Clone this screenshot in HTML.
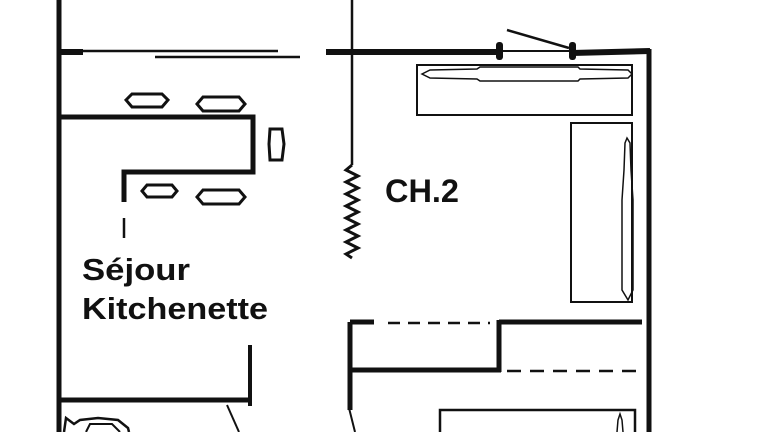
<!DOCTYPE html>
<html><head><meta charset="utf-8"><style>
html,body{margin:0;padding:0;background:#fff;width:768px;height:432px;overflow:hidden}
svg{display:block}
text{font-family:"Liberation Sans",sans-serif;font-weight:bold;fill:#111}
</style></head><body>
<svg width="768" height="432" viewBox="0 0 768 432" xmlns="http://www.w3.org/2000/svg">
<g stroke="#111" fill="none" stroke-linecap="butt">
<line x1="59" y1="0" x2="59" y2="432" stroke-width="5"/>
<rect x="57" y="49" width="26" height="6" fill="#111" stroke="none"/>
<line x1="59" y1="51" x2="278" y2="51" stroke-width="2.5"/>
<line x1="155" y1="57" x2="300" y2="57" stroke-width="2.5"/>
<line x1="352" y1="0" x2="352" y2="165" stroke-width="2.5"/>
<polyline points="352,165 346,170 358,176 346,182 358,188 346,194 358,200 346,206 358,212 346,218 358,224 346,230 358,236 346,242 358,248 346,254 352,258" stroke-width="3"/>
<line x1="326" y1="52" x2="500" y2="52" stroke-width="6"/>
<line x1="500" y1="51" x2="572" y2="51" stroke-width="2"/>
<rect x="496" y="42" width="7" height="18" rx="3" fill="#111" stroke="none"/>
<rect x="569" y="42" width="7" height="18" rx="3" fill="#111" stroke="none"/>
<line x1="507" y1="30" x2="569" y2="48" stroke-width="2.5"/>
<line x1="572" y1="53" x2="650" y2="51" stroke-width="6"/>
<line x1="649" y1="49" x2="649" y2="432" stroke-width="5"/>
<rect x="417" y="65" width="215" height="50" stroke-width="2"/>
<path d="M422,74 L430,70 L477,69 L480,67 L578,67 L580,69 L628,70 L632,74 L628,78 L580,79 L578,81 L480,81 L477,79 L430,78 Z" stroke-width="1.5"/>
<rect x="571" y="123" width="61" height="179" stroke-width="2"/>
<path d="M627,138 L630,143 L631,170 L633,200 L633,290 L628,300 L622,290 L622,200 L624,170 L625,143 Z" stroke-width="1.5"/>
<polyline points="61,117 253,117 253,172 124,172 124,202" stroke-width="5"/>
<line x1="124" y1="218" x2="124" y2="238" stroke-width="2.5"/>
<path d="M126,100 L132,94 L162,94 L168,100 L162,107 L132,107 Z" stroke-width="3"/>
<path d="M197,104 L203,97 L239,97 L245,104 L239,111 L203,111 Z" stroke-width="3"/>
<path d="M269,144 L270,129 L282,129 L284,144 L282,160 L270,160 Z" stroke-width="3"/>
<path d="M142,191 L147,185 L172,185 L177,191 L172,197 L147,197 Z" stroke-width="3"/>
<path d="M197,197 L203,190 L239,190 L245,197 L239,204 L203,204 Z" stroke-width="3"/>
<line x1="250" y1="345" x2="250" y2="406" stroke-width="4"/>
<line x1="59" y1="400" x2="252" y2="400" stroke-width="5"/>
<line x1="227" y1="405" x2="239" y2="432" stroke-width="2"/>
<path d="M64,432 L66,418 L74,424 L80,420 L98,418 L118,420 L128,428 L129,432" stroke-width="2.5"/>
<path d="M86,432 L90,424 L112,424 L120,432" stroke-width="2"/>
<line x1="350" y1="322" x2="350" y2="410" stroke-width="5"/>
<line x1="350" y1="322" x2="374" y2="322" stroke-width="5"/>
<line x1="388" y1="323" x2="490" y2="323" stroke-width="2.5" stroke-dasharray="12,8"/>
<line x1="499" y1="320" x2="499" y2="372" stroke-width="5"/>
<line x1="499" y1="322" x2="642" y2="322" stroke-width="5"/>
<line x1="350" y1="370" x2="501" y2="370" stroke-width="5"/>
<line x1="507" y1="371" x2="642" y2="371" stroke-width="2.5" stroke-dasharray="14,9"/>
<line x1="349" y1="408" x2="355" y2="432" stroke-width="2"/>
<rect x="440" y="410" width="195" height="30" stroke-width="2.5"/>
<path d="M617,432 L618,420 L620,414 L622,420 L623,432" stroke-width="1.5"/>
</g>
<text x="82" y="280" font-size="31" textLength="108" lengthAdjust="spacingAndGlyphs">Séjour</text>
<text x="82" y="319" font-size="31" textLength="186" lengthAdjust="spacingAndGlyphs">Kitchenette</text>
<text x="385" y="202" font-size="32" textLength="74" lengthAdjust="spacingAndGlyphs">CH.2</text>
</svg>
</body></html>
